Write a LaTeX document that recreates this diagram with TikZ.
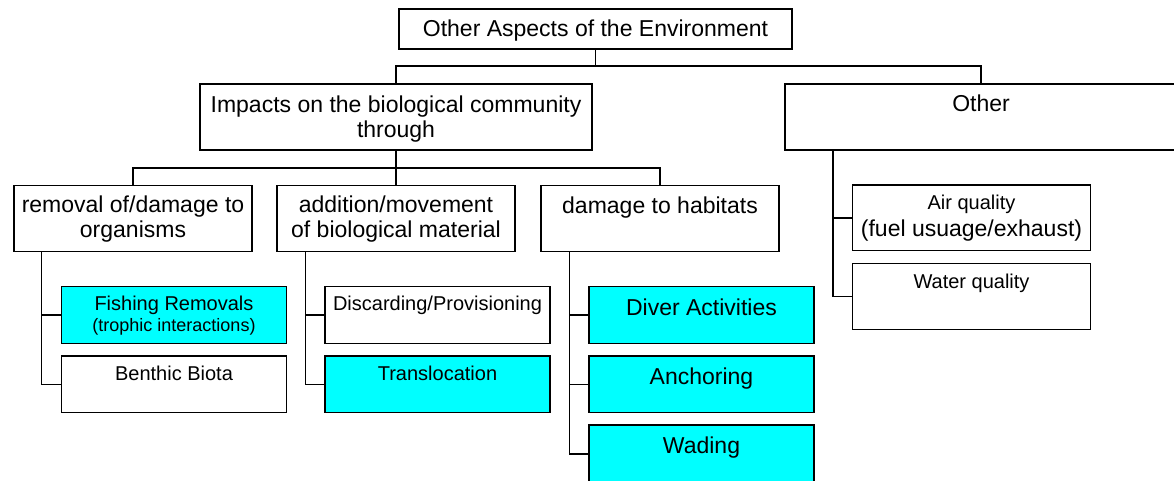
\documentclass[tikz,border=0pt]{standalone}
\usepackage{fontspec}
\setmainfont{Liberation Sans}
\usetikzlibrary{calc}
\definecolor{aqua}{HTML}{00FFFF}
\begin{document}
\begin{tikzpicture}[x=1pt,y=-1pt,
  box/.style={draw=black, line width=1.3pt, fill=white, inner sep=0pt},
  hl/.style={box, fill=aqua},
  big/.style={font=\fontsize{23}{25}\selectfont, anchor=base, inner sep=0pt},
  small/.style={font=\fontsize{20}{22}\selectfont, anchor=base, inner sep=0pt},
  tiny/.style={font=\fontsize{18}{20}\selectfont, anchor=base, inner sep=0pt},
  link/.style={draw=black, line width=1.3pt},
]
\useasboundingbox (0,0) rectangle (1174,481);
\clip (0,0) rectangle (1174,481);

% boxes
\node[box, minimum width=393pt, minimum height=40pt] (top) at (595.5,29) {};
\node[box, minimum width=392pt, minimum height=66pt] (impacts) at (396,117) {};
\node[box, minimum width=392pt, minimum height=66pt] (other) at (981,117) {};
\node[box, minimum width=238pt, minimum height=66pt] (removal) at (133,218.6) {};
\node[box, minimum width=238pt, minimum height=66pt] (addition) at (396,218.6) {};
\node[box, minimum width=238pt, minimum height=66pt] (damage) at (660,218.3) {};
\node[hl, minimum width=225pt, minimum height=56.6pt] (fishing) at (174,315) {};
\node[box, minimum width=225pt, minimum height=56.6pt] (benthic) at (174,384.3) {};
\node[box, minimum width=225pt, minimum height=56.6pt] (discard) at (437.5,315) {};
\node[hl, minimum width=225pt, minimum height=56.6pt] (transloc) at (437.5,384.3) {};
\node[hl, minimum width=225pt, minimum height=56.6pt] (diver) at (701.5,315) {};
\node[hl, minimum width=225pt, minimum height=56.6pt] (anchor) at (701.5,384.3) {};
\node[hl, minimum width=225pt, minimum height=58pt] (wading) at (701.5,454) {};
\node[box, minimum width=238pt, minimum height=65.7pt] (air) at (971.5,217.9) {};
\node[box, minimum width=238pt, minimum height=65.7pt] (water) at (971.5,296.5) {};

% connectors
\coordinate (busA) at (595.5,66);
\draw[link] (top.south) -- (busA);
\draw[link] (impacts.north) |- (busA) -| (other.north);

\coordinate (busB) at (396,168);
\draw[link] (impacts.south) -- (addition.north);
\draw[link] (removal.north) |- (busB) -| (damage.north);

\coordinate (rs) at ($(removal.south west)+(28,0)$);
\draw[link] (rs) |- (fishing.west);
\draw[link] (rs) |- (benthic.west);

\coordinate (as) at ($(addition.south west)+(29,0)$);
\draw[link] (as) |- (discard.west);
\draw[link] (as) |- (transloc.west);

\coordinate (ds) at ($(damage.south west)+(29,0)$);
\draw[link] (ds) |- (diver.west);
\draw[link] (ds) |- (anchor.west);
\draw[link] (ds) |- (wading.west);

\coordinate (os) at ($(other.south west)+(48.5,0)$);
\draw[link] (os) |- (air.west);
\draw[link] (os) |- (water.west);

% texts
\node[big] (t-top) at (595.5,37) {Other Aspects of the Environment};
\node[big] (t-imp1) at (396,113) {Impacts on the biological community};
\node[big] (t-imp2) at (396,138) {through};
\node[big] (t-other) at (981,112) {Other};
\node[big] (t-rem1) at (133,212.5) {removal of/damage to};
\node[big] (t-rem2) at (133,237.5) {organisms};
\node[big] (t-add1) at (396,212.5) {addition/movement};
\node[big] (t-add2) at (396,237.5) {of biological material};
\node[big] (t-dam) at (660,213) {damage to habitats};
\node[small] (t-fish1) at (174,310.2) {Fishing Removals};
\node[tiny] (t-fish2) at (174,331.5) {(trophic interactions)};
\node[small] (t-ben) at (174,380) {Benthic Biota};
\node[small] (t-disc) at (437.5,310.5) {Discarding/Provisioning};
\node[small] (t-trans) at (437.5,380) {Translocation};
\node[big] (t-div) at (701.5,315) {Diver Activities};
\node[big] (t-anc) at (701.5,384.3) {Anchoring};
\node[big] (t-wad) at (701.5,453.3) {Wading};
\node[small] (t-air1) at (971.5,209.5) {Air quality};
\node[big] (t-air2) at (971.5,236) {(fuel usuage/exhaust)};
\node[small] (t-wat) at (971.5,288) {Water quality};
\end{tikzpicture}
\end{document}
